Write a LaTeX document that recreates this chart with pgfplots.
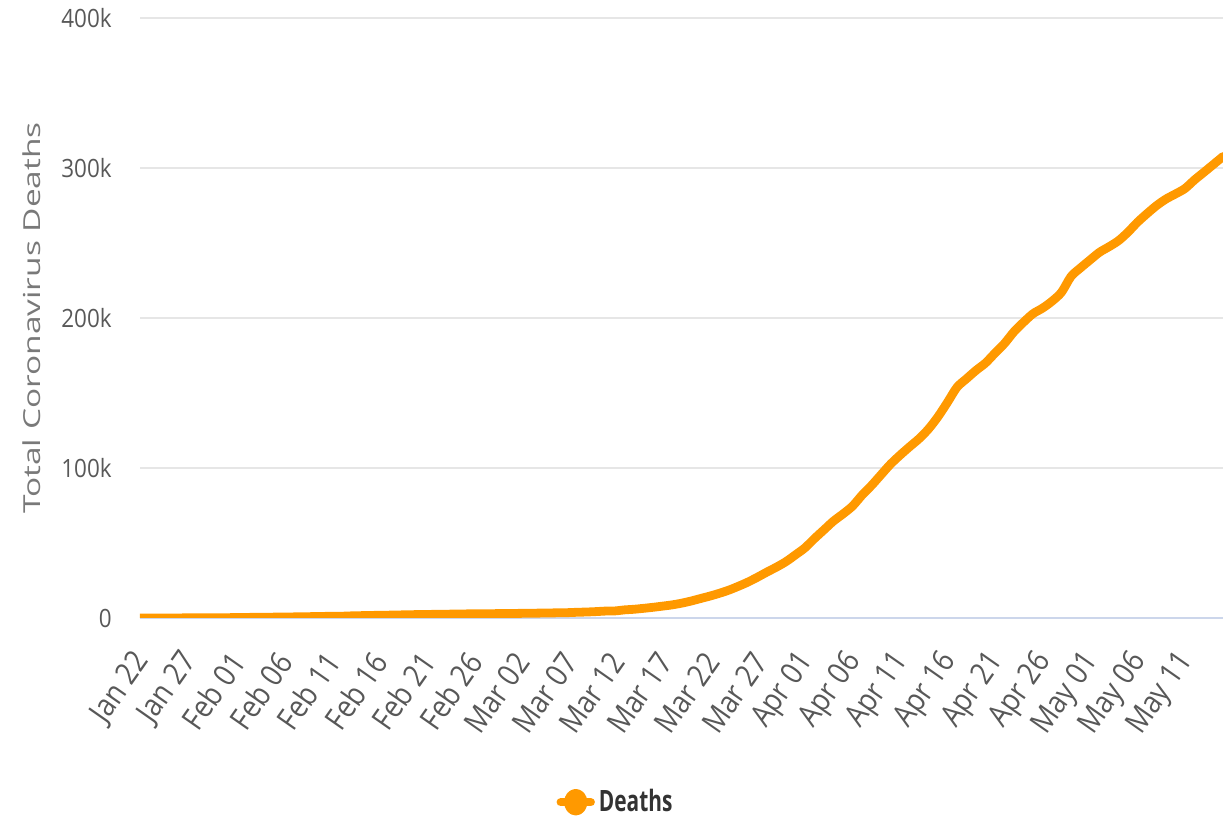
\documentclass[border=0pt]{standalone}
\usepackage{pgfplots}
\pgfplotsset{compat=1.18}
\usepackage{fontspec}
\setmainfont{Open Sans}
\newfontfamily\tickfont[FakeStretch=0.89]{Open Sans}
\newfontfamily\xtickfont[FakeStretch=0.88]{Open Sans}
\newfontfamily\labfont[FakeStretch=1.43]{Open Sans}
\newfontfamily\legfont[FakeStretch=0.71]{Open Sans}
\definecolor{cLine}{HTML}{FF9900}
\definecolor{cGrid}{HTML}{E6E6E6}
\definecolor{cAxis}{HTML}{CCD6EB}
\definecolor{cText}{HTML}{585858}

% total deaths, day 0 = Jan 22
\pgfplotstableread{
day deaths
0 17
1 18
2 26
3 42
4 56
5 82
6 131
7 133
8 171
9 213
10 259
11 362
12 426
13 492
14 564
15 634
16 719
17 806
18 906
19 1013
20 1113
21 1118
22 1371
23 1523
24 1666
25 1770
26 1868
27 2007
28 2122
29 2247
30 2251
31 2458
32 2469
33 2629
34 2708
35 2770
36 2814
37 2872
38 2941
39 2996
40 3085
41 3160
42 3254
43 3348
44 3460
45 3558
46 3802
47 3988
48 4262
49 4615
50 4720
51 5404
52 5819
53 6440
54 7126
55 7905
56 8733
57 9867
58 11299
59 12973
60 14623
61 16497
62 18615
63 21181
64 23970
65 27198
66 30652
67 33925
68 37582
69 42107
70 46809
71 52983
72 58787
73 64606
74 69374
75 74565
76 81865
77 88338
78 95455
79 102525
80 108503
81 114091
82 119482
83 125984
84 134177
85 143800
86 153822
87 159510
88 165044
89 169986
90 176583
91 183027
92 190858
93 197159
94 202846
95 206544
96 211167
97 217153
98 227638
99 233388
100 238650
101 243808
102 247503
103 251537
104 257239
105 263855
106 269567
107 274898
108 279311
109 282709
110 286330
111 292046
112 297197
113 302418
114 307666
}\deaths

\begin{document}
\begin{tikzpicture}
\begin{axis}[
  name=ax,
  scale only axis,
  width=541.5pt, height=300pt,
  xmin=0, xmax=114,
  ymin=0, ymax=400000,
  axis x line*=bottom, axis y line*=left,
  x axis line style={draw=cAxis, line width=1.2pt},
  y axis line style={draw=none},
  major tick length=0pt,
  ymajorgrids,
  grid style={draw=cGrid, line width=1.1pt},
  xtick={0,5,...,110},
  xticklabels={Jan 22,Jan 27,Feb 01,Feb 06,Feb 11,Feb 16,Feb 21,Feb 26,Mar 02,Mar 07,Mar 12,Mar 17,Mar 22,Mar 27,Apr 01,Apr 06,Apr 11,Apr 16,Apr 21,Apr 26,May 01,May 06,May 11},
  xticklabel style={font=\xtickfont\fontsize{15.5}{17}\selectfont, text=cText, xshift=1.5pt, yshift=-19pt, rotate=55, anchor=east, inner sep=0pt},
  ytick={0,100000,200000,300000,400000},
  yticklabels={0,100k,200k,300k,400k},
  scaled y ticks=false,
  yticklabel style={font=\tickfont\fontsize{12.6}{14}\selectfont, text=cText, anchor=east, inner sep=0pt, xshift=-14pt},
  ylabel={Total Coronavirus Deaths},
  ylabel style={font=\labfont\fontsize{11.7}{13}\selectfont, text=cText!80, at={(axis description cs:-0.0997,0.5)}, anchor=center},
  legend style={draw=none, fill=none, at={(axis description cs:0.44,-0.307)}, anchor=center,
    font=\legfont\bfseries\fontsize{14.7}{16}\selectfont, text=black!80},
  legend image code/.code={
    \draw[cLine, line width=4.2pt] (0pt,0pt) -- (15pt,0pt);
    \fill[cLine] (7.5pt,0pt) ellipse (3.6pt and 4.4pt);
  },
]
\addplot[cLine, line width=4.4pt, line join=round, line cap=round, smooth] table[x=day, y=deaths] {\deaths};
\addlegendentry{Deaths}
\end{axis}
\pgfresetboundingbox
\path[use as bounding box] (ax.south west) ++(-70pt,-100.5pt) rectangle ++(611.5pt,409.5pt);
\end{tikzpicture}
\end{document}
